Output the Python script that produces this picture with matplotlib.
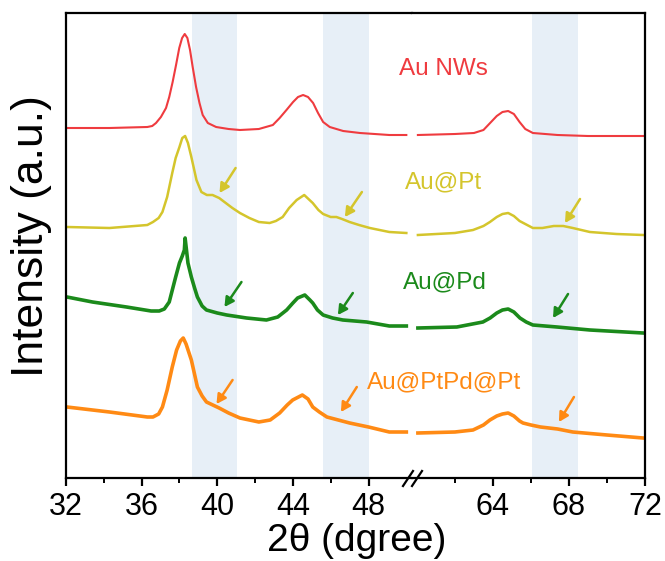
import numpy as np
import matplotlib.pyplot as plt
from matplotlib.lines import Line2D

plt.rcParams['font.family'] = ['Liberation Sans', 'DejaVu Sans']

# ---- data (stacked intensities in a.u.) ----
names = ['Au NWs', 'Au@Pt', 'Au@Pd', 'Au@PtPd@Pt']
colors = ['#EF3B3F', '#D4C52C', '#1B8A1B', '#FF8A14']

# left segment (32-50)
au_x_l = [32.05, 34.3, 36.3, 36.56, 36.76, 37.02, 37.29, 37.46, 37.64, 37.82, 37.99, 38.14, 38.28,
          38.42, 38.56, 38.70, 38.88, 39.06, 39.23, 39.50, 39.94, 40.6, 41.2, 42.2, 42.94,
          43.30, 43.66, 44.01, 44.27, 44.54, 44.80, 45.07, 45.33, 45.60, 45.95, 46.66, 47.55,
          49.1, 50.0]
au_y_l = [350, 350, 351, 352, 355, 361, 370, 381, 396, 413, 430, 440, 444,
          440, 428, 411, 391, 375, 363, 355, 351, 349, 348, 349, 353,
          360, 368, 376, 381, 383, 381, 375, 365, 356, 351, 347, 345,
          343, 343]
pt_x_l = [32.05, 34.3, 36.3, 36.6, 36.9, 37.1, 37.35, 37.62, 37.8, 38.0, 38.15, 38.3, 38.45, 38.63,
          38.9, 39.16, 39.45, 39.75, 40.1, 40.45, 40.8, 41.2, 41.7, 42.2, 42.77, 43.1, 43.46,
          43.8, 44.2, 44.6, 45.05, 45.35, 45.6, 46.0, 46.3, 46.6, 47.0, 47.5, 48.07, 49.1, 50.0]
pt_y_l = [251, 250, 253, 256, 260, 266, 281, 305, 320, 331, 340, 342, 335, 321,
          298, 286, 283, 283, 280, 275, 270, 265, 260, 256, 255, 257, 261,
          270, 278, 283, 275, 268, 264, 261, 261, 259, 256, 253, 250, 246, 245]
pd_x_l = [32.05, 33.4, 35.2, 36.5, 36.93, 37.2, 37.46, 37.65, 37.8, 38.0, 38.15, 38.26, 38.3,
          38.45, 38.63, 38.8, 38.95, 39.2, 39.43, 40.0, 40.5, 41.55, 42.6, 43.2, 43.67, 44.0,
          44.25, 44.63, 44.9, 45.05, 45.3, 45.6, 46.1, 46.64, 47.9, 49.1, 50.0]
pd_y_l = [181, 176, 171, 167, 167, 169, 176, 190, 201, 215, 222, 228, 240,
          215, 201, 190, 181, 172, 168, 165, 163, 160, 158, 161, 168, 175,
          180, 183, 178, 175, 168, 163, 160, 158, 156, 152, 152]
ptpd_x_l = [32.05, 34.3, 36.3, 36.6, 36.9, 37.1, 37.35, 37.62, 37.85, 38.05, 38.2, 38.35, 38.63,
            38.95, 39.2, 39.43, 40.1, 40.6, 41.2, 42.2, 42.8, 43.3, 43.7, 43.99, 44.5, 44.8,
            45.05, 45.4, 45.8, 46.4, 47.0, 48.0, 49.1, 50.0]
ptpd_y_l = [71, 66, 61, 61, 64, 71, 88, 111, 128, 137, 140, 134, 118,
            91, 82, 76, 70, 65, 60, 56, 58, 65, 73, 78, 83, 79,
            71, 66, 61, 58, 55, 51, 46, 46]

# right segment (60-72)
au_x_r = [60.05, 62.0, 63.0, 63.5, 63.85, 64.2, 64.5, 64.8, 65.1, 65.4, 65.7, 66.1, 67.4, 69.0, 71.9]
au_y_r = [343, 344, 345, 348, 355, 362, 366, 367, 364, 356, 349, 345, 343, 342, 342]
pt_x_r = [60.05, 62.0, 62.95, 63.5, 63.84, 64.2, 64.5, 64.8, 65.1, 65.4, 65.6, 66.1, 66.6, 67.2,
          67.7, 68.2, 69.1, 70.5, 71.9]
pt_y_r = [243, 245, 248, 252, 256, 261, 264, 265, 262, 257, 255, 250, 250, 252,
          252, 250, 246, 244, 243]
pd_x_r = [60.05, 62.1, 63.47, 63.85, 64.2, 64.5, 64.8, 65.1, 65.42, 65.75, 66.1, 67.37, 69.1, 71.9]
pd_y_r = [150, 151, 156, 160, 165, 168, 169, 166, 160, 156, 153, 151, 148, 145]
ptpd_x_r = [60.05, 62.0, 62.95, 63.5, 63.84, 64.2, 64.5, 64.8, 65.1, 65.4, 65.58, 66.0, 66.5,
            67.4, 68.2, 70.0, 71.9]
ptpd_y_r = [45, 46, 48, 53, 58, 62, 64, 65, 62, 57, 55, 53, 51, 49, 46, 43, 40]

left_x = [au_x_l, pt_x_l, pd_x_l, ptpd_x_l]
left_y = [au_y_l, pt_y_l, pd_y_l, ptpd_y_l]
right_x = [au_x_r, pt_x_r, pd_x_r, ptpd_x_r]
right_y = [au_y_r, pt_y_r, pd_y_r, ptpd_y_r]
widths = [1.5, 1.8, 2.6, 2.6]

# shaded regions
bands_l = [(38.68, 41.07), (45.58, 48.0)]
bands_r = [(66.05, 68.5)]

# arrows: (tail x, tail y, tip x, tip y), per sample
arrows_l = [
    [],
    [(40.97, 310, 40.12, 285), (47.65, 286, 46.75, 261)],
    [(41.28, 196, 40.38, 171), (47.17, 185, 46.38, 163)],
    [(40.81, 98, 39.96, 74), (47.38, 91, 46.54, 66)],
]
arrows_r = [
    [],
    [(68.58, 279, 67.79, 255)],
    [(67.95, 184, 67.16, 160)],
    [(68.26, 81, 67.47, 56)],
]

W, H = 665, 561
fig = plt.figure(figsize=(6.65, 5.61), dpi=100)
x0, xm, x1, yb, yt = 66, 412, 645, 478, 13
ax1 = fig.add_axes([x0 / W, 1 - yb / H, (xm - x0) / W, (yb - yt) / H])
ax2 = fig.add_axes([xm / W, 1 - yb / H, (x1 - xm) / W, (yb - yt) / H], sharey=ax1)

for ax, bands, xs, ys, arrs in [(ax1, bands_l, left_x, left_y, arrows_l),
                                (ax2, bands_r, right_x, right_y, arrows_r)]:
    for a, b in bands:
        ax.axvspan(a, b, color='#E7EFF7', lw=0, zorder=0)
    for i in range(4):
        ax.plot(xs[i], ys[i], color=colors[i], lw=widths[i], zorder=2)
        for tx, ty, hx, hy in arrs[i]:
            ax.annotate('', xy=(hx, hy), xytext=(tx, ty),
                        arrowprops=dict(arrowstyle='-|>,head_length=0.55,head_width=0.3',
                                        color=colors[i], lw=1.8, shrinkA=0, shrinkB=0))

ax1.set_xlim(32, 50.3)
ax2.set_xlim(59.74, 72)
ax1.set_ylim(0, 465)
ax1.set_xticks([32, 36, 40, 44, 48])
ax1.set_xticks([34, 38, 42, 46], minor=True)
ax2.set_xticks([64, 68, 72])
ax2.set_xticks([62, 66, 70], minor=True)

ax1.spines['right'].set_visible(False)
ax2.spines['left'].set_visible(False)
for ax in (ax1, ax2):
    for s in ax.spines.values():
        s.set_linewidth(1.6)
    ax.tick_params(axis='x', which='major', length=6, width=1.6, labelsize=22, pad=4)
    ax.tick_params(axis='x', which='minor', length=3.5, width=1.4)
    ax.tick_params(axis='y', left=False, right=False, labelleft=False, labelright=False)

# break marks on the bottom axis
for dx in (0, 9):
    fig.add_artist(Line2D([(403 + dx) / W, (413 + dx) / W],
                          [1 - 486 / H, 1 - 471 / H], color='black', lw=1.6))

# sample labels
label_pos = [(399, 69), (405, 182), (403, 282), (367, 382)]
for (px, py), name, c in zip(label_pos, names, colors):
    fig.text(px / W, 1 - py / H, name, color=c, fontsize=17.5, ha='left', va='center')

fig.text(357 / W, 1 - 541 / H, '2θ (dgree)', fontsize=28, ha='center', va='center')
fig.text(32 / W, 1 - 236 / H, 'Intensity (a.u.)', fontsize=32, rotation=90,
         ha='center', va='center')

fig.savefig('out.png', dpi=100)
